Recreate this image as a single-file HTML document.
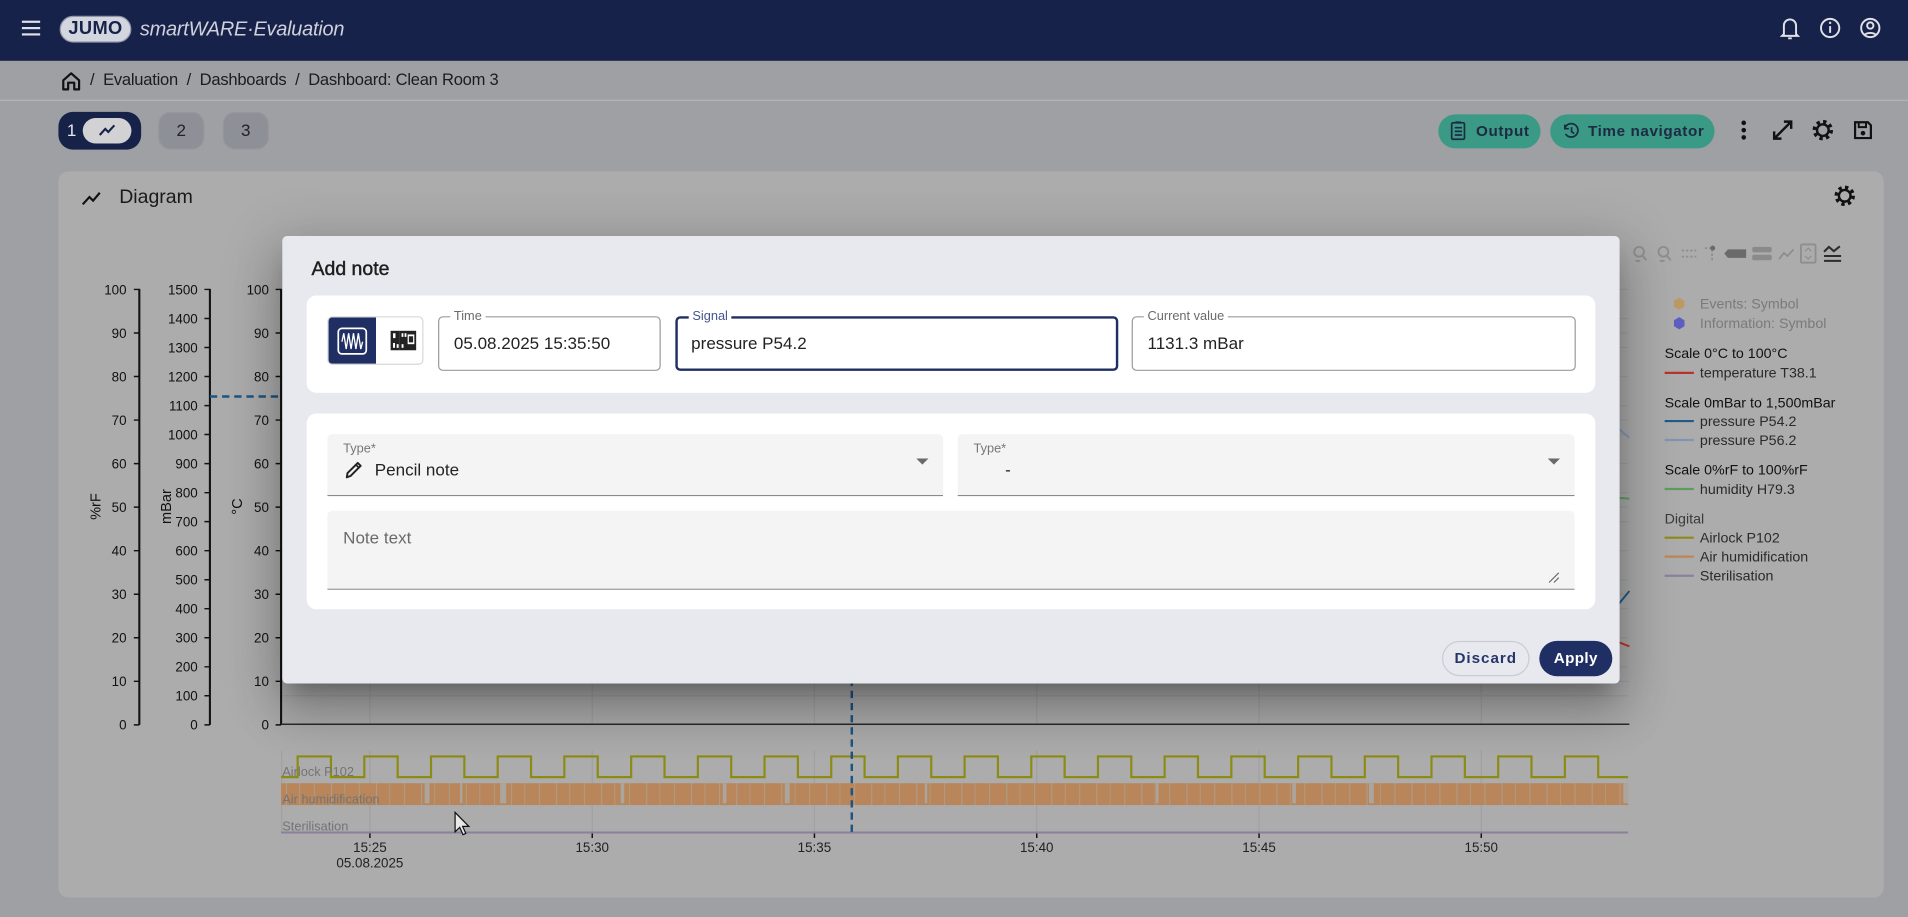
<!DOCTYPE html>
<html><head><meta charset="utf-8">
<style>
html,body{margin:0;padding:0;width:1908px;height:917px;overflow:hidden;background:#9fa0a4;}
#w{position:absolute;left:0;top:0;width:1568px;height:754px;transform:scale(1.21684,1.21618);transform-origin:0 0;font-family:"Liberation Sans",Arial,sans-serif;background:#9fa0a4;overflow:hidden;}
.a{position:absolute}
.fld{position:absolute;border:1px solid #9b9b9b;border-radius:4px;box-sizing:border-box;}
.fld .lb{position:absolute;top:-7px;left:9px;padding:0 3px;background:#fff;font-size:10.5px;line-height:12px;color:#6b6b6b;}
.fld .v{position:absolute;left:12px;top:0;line-height:43px;font-size:14px;color:#222;}
.sel{position:absolute;background:#f4f4f5;border-bottom:1px solid #8a8a8a;border-radius:4px 4px 0 0;box-sizing:border-box;}
.sel .lb{position:absolute;left:13px;top:6px;font-size:10.5px;line-height:12px;color:#777;}
.sel .v{position:absolute;top:20px;line-height:18px;font-size:14px;color:#222;}
</style></head><body><div id="w">

<!-- header -->
<div class="a" style="left:0;top:0;width:1568px;height:50px;background:#17224a;"></div>
<svg class="a" style="left:0;top:0" width="1568" height="50">
  <g fill="#dfe1e7"><rect x="18" y="17" width="15" height="1.8"/><rect x="18" y="22.2" width="15" height="1.8"/><rect x="18" y="27.4" width="15" height="1.8"/></g>
  <g fill="none" stroke="#dfe1e7" stroke-width="1.6">
    <path d="M1466,28V21a5,5 0 0 1 10,0V28l1.5,1.5H1464.5Z"/><path d="M1469.5,31.5h3"/>
    <circle cx="1504" cy="23" r="7.5"/><path d="M1504,21.5v5.5"/>
    <circle cx="1537" cy="23" r="7.5"/><circle cx="1537" cy="21" r="2.6"/><path d="M1532.3,28.6a6,4 0 0 1 9.4,0"/>
  </g>
  <circle cx="1504" cy="18.8" r="1" fill="#dfe1e7"/>
</svg>
<div class="a" style="left:49px;top:13px;width:59px;height:22px;box-sizing:border-box;border-radius:11px;background:#d3d6de;border:1.5px solid #8f96a8;text-align:center;font-weight:bold;font-size:15px;line-height:19px;color:#17224a;letter-spacing:0.3px;">JUMO</div>
<div class="a" style="left:115px;top:14px;font-style:italic;font-size:16.4px;line-height:20px;color:#cfd2da;letter-spacing:-0.2px;white-space:nowrap;">smartWARE·Evaluation</div>

<!-- breadcrumb -->
<div class="a" style="left:0;top:82px;width:1568px;height:1px;background:#b3b4b8;"></div>
<svg class="a" style="left:50px;top:58px" width="17" height="17"><path d="M2,8L8.5,2.3L15,8V15.5H11V10H6V15.5H2Z" fill="none" stroke="#111" stroke-width="1.8" stroke-linejoin="round"/></svg>
<div class="a" style="left:74px;top:58px;font-size:13.6px;line-height:16px;color:#1c1c1c;white-space:nowrap;letter-spacing:-0.2px;">/&nbsp; Evaluation &nbsp;/&nbsp; Dashboards &nbsp;/&nbsp; Dashboard: Clean Room 3</div>

<!-- tabs -->
<div class="a" style="left:48px;top:92px;width:68px;height:31px;border-radius:12px;background:#172249;"></div>
<div class="a" style="left:55px;top:99px;font-size:14px;line-height:16px;color:#e6e8ee;">1</div>
<div class="a" style="left:68px;top:97px;width:40px;height:21px;border-radius:11px;background:#d2d2d4;"></div>
<svg class="a" style="left:80px;top:100px" width="16" height="14"><polyline points="2,11 6.5,6 9,8.5 14,3" fill="none" stroke="#172249" stroke-width="1.7"/></svg>
<div class="a" style="left:130px;top:92px;width:38px;height:31px;border-radius:10px;background:#8e9097;border:1px solid #95979d;box-sizing:border-box;text-align:center;font-size:14px;line-height:29px;color:#222;">2</div>
<div class="a" style="left:183px;top:92px;width:38px;height:31px;border-radius:10px;background:#8e9097;border:1px solid #95979d;box-sizing:border-box;text-align:center;font-size:14px;line-height:29px;color:#222;">3</div>

<!-- right toolbar -->
<div class="a" style="left:1182px;top:94px;width:84px;height:28px;border-radius:14px;background:#3a9a86;"></div>
<div class="a" style="left:1213px;top:94px;line-height:28px;font-size:12.5px;font-weight:bold;color:#1d2a42;letter-spacing:0.5px;">Output</div>
<div class="a" style="left:1274px;top:94px;width:135px;height:28px;border-radius:14px;background:#3a9a86;"></div>
<div class="a" style="left:1305px;top:94px;line-height:28px;font-size:12.5px;font-weight:bold;color:#1d2a42;letter-spacing:0.5px;white-space:nowrap;">Time navigator</div>
<svg class="a" style="left:0;top:0" width="1568" height="140">
  <g fill="none" stroke="#1d2a42" stroke-width="1.4">
    <rect x="1193" y="101" width="10.5" height="13.5" rx="1"/><path d="M1196,100.5h4.5M1195.5,105h6M1195.5,108h6M1195.5,111h6"/>
    <path d="M1286,105.5a5.5,5.5 0 1 1 0.6,4.6"/><path d="M1286,102.5v3.3h3.3"/><path d="M1291.5,104.5v3.8l2.2,1.5"/>
  </g>
  <g fill="#111"><circle cx="1433" cy="101" r="1.9"/><circle cx="1433" cy="107" r="1.9"/><circle cx="1433" cy="113" r="1.9"/></g>
  <g fill="none" stroke="#111" stroke-width="2">
    <path d="M1458,114L1472,100M1466,100H1472V106M1458,108V114H1464"/>
    <circle cx="1498" cy="107" r="7" stroke-width="2.8" stroke-dasharray="2.75 2.75"/>
    <circle cx="1498" cy="107" r="4.8" stroke-width="2"/>
    <path d="M1525,100.5H1535L1537.5,103V113.5H1524.5V100.5Z" stroke-width="1.8"/>
    <path d="M1527.5,101v3.5h6V101" stroke-width="1.6"/>
  </g>
  <circle cx="1531" cy="109.5" r="1.9" fill="#111"/>
</svg>

<!-- card -->
<div class="a" style="left:48px;top:141px;width:1500px;height:597px;border-radius:8px;background:#acacac;"></div>
<svg class="a" style="left:66px;top:155px" width="18" height="16"><polyline points="2,13 7.5,7 10.5,10 16,3.5" fill="none" stroke="#111" stroke-width="1.8"/></svg>
<div class="a" style="left:98px;top:154px;font-size:16px;line-height:18px;color:#1a1a1a;">Diagram</div>
<svg class="a" style="left:1506px;top:151px" width="20" height="20"><circle cx="10" cy="10" r="7" fill="none" stroke="#111" stroke-width="2.8" stroke-dasharray="2.75 2.75"/><circle cx="10" cy="10" r="4.8" fill="none" stroke="#111" stroke-width="2"/></svg>

<!-- chart -->
<svg class="a" style="left:0;top:0" width="1568" height="754" font-family="Liberation Sans, Arial, sans-serif">
  <defs>
    <pattern id="hp" x="231" y="644" width="37" height="18" patternUnits="userSpaceOnUse">
      <rect width="37" height="18" fill="#b8865a"/>
      <rect x="4" width="0.8" height="18" fill="#ae9f90"/>
      <rect x="15" width="0.6" height="18" fill="#ae9f90"/>
      <rect x="27" width="0.7" height="18" fill="#ae9f90"/>
    </pattern>
  </defs>
  <!-- grid -->
  <g stroke="#a1a1a1" stroke-width="1">
    <path d="M231,238H1338M231,261.9H1338M231,273.8H1338M231,285.7H1338M231,309.6H1338M231,333.5H1338M231,345.4H1338M231,357.3H1338M231,381.2H1338M231,405.1H1338M231,417H1338M231,428.9H1338M231,452.8H1338M231,476.7H1338M231,488.6H1338M231,500.5H1338M231,524.4H1338M231,548.3H1338M231,560.2H1338M231,572.1H1338"/>
    <path d="M304,238V596M486.7,238V596M669.3,238V596M852,238V596M1034.7,238V596M1217.3,238V596"/>
    <path d="M304,617V685M486.7,617V685M669.3,617V685M852,617V685M1034.7,617V685M1217.3,617V685M231.5,617V685"/>
  </g>
  <!-- line fragments at right -->
  <g fill="none" stroke-width="1.6">
    <path d="M1325,348L1339,360" stroke="#7f9abb"/>
    <path d="M1325,409L1339,410" stroke="#5ea25e"/>
    <path d="M1325,503L1339,486" stroke="#1f5a8a"/>
    <path d="M1325,526L1339,531.5" stroke="#c0352b"/>
  </g>
  <!-- axes -->
  <g stroke="#111" fill="none">
    <path d="M114.5,237.5V596M172.5,237.5V596M231,237.5V596" stroke-width="1.7"/>
    <path d="M231,595.5H1339" stroke="#2a2a2a" stroke-width="1.2"/>
    <path stroke-width="1.2" d="M110,238H114.5M110,273.8H114.5M110,309.6H114.5M110,345.4H114.5M110,381.2H114.5M110,417H114.5M110,452.8H114.5M110,488.6H114.5M110,524.4H114.5M110,560.2H114.5M110,596H114.5
    M226.5,238H231M226.5,273.8H231M226.5,309.6H231M226.5,345.4H231M226.5,381.2H231M226.5,417H231M226.5,452.8H231M226.5,488.6H231M226.5,524.4H231M226.5,560.2H231M226.5,596H231
    M168,238H172.5M168,261.9H172.5M168,285.7H172.5M168,309.6H172.5M168,333.5H172.5M168,357.3H172.5M168,381.2H172.5M168,405.1H172.5M168,428.9H172.5M168,452.8H172.5M168,476.7H172.5M168,500.5H172.5M168,524.4H172.5M168,548.3H172.5M168,572.1H172.5M168,596H172.5
    M304,685V689M486.7,685V689M669.3,685V689M852,685V689M1034.7,685V689M1217.3,685V689"/>
  </g>
  <g font-size="11" fill="#111" text-anchor="end">
    <text x="104" y="242">100</text><text x="104" y="277.8">90</text><text x="104" y="313.6">80</text><text x="104" y="349.4">70</text><text x="104" y="385.2">60</text><text x="104" y="421">50</text><text x="104" y="456.8">40</text><text x="104" y="492.6">30</text><text x="104" y="528.4">20</text><text x="104" y="564.2">10</text><text x="104" y="600">0</text>
    <text x="221" y="242">100</text><text x="221" y="277.8">90</text><text x="221" y="313.6">80</text><text x="221" y="349.4">70</text><text x="221" y="385.2">60</text><text x="221" y="421">50</text><text x="221" y="456.8">40</text><text x="221" y="492.6">30</text><text x="221" y="528.4">20</text><text x="221" y="564.2">10</text><text x="221" y="600">0</text>
    <text x="162.5" y="242">1500</text><text x="162.5" y="265.9">1400</text><text x="162.5" y="289.7">1300</text><text x="162.5" y="313.6">1200</text><text x="162.5" y="337.5">1100</text><text x="162.5" y="361.3">1000</text><text x="162.5" y="385.2">900</text><text x="162.5" y="409.1">800</text><text x="162.5" y="432.9">700</text><text x="162.5" y="456.8">600</text><text x="162.5" y="480.7">500</text><text x="162.5" y="504.5">400</text><text x="162.5" y="528.4">300</text><text x="162.5" y="552.3">200</text><text x="162.5" y="576.1">100</text><text x="162.5" y="600">0</text>
  </g>
  <g font-size="12" fill="#111" text-anchor="middle">
    <text x="82.5" y="416.5" transform="rotate(-90 82.5 416.5)">%rF</text>
    <text x="140.5" y="416.5" transform="rotate(-90 140.5 416.5)">mBar</text>
    <text x="199" y="416.5" transform="rotate(-90 199 416.5)">°C</text>
  </g>
  <!-- digital -->
  <rect x="231" y="644" width="1107" height="18" fill="url(#hp)"/>
  <g fill="#aba59e">
    <rect x="349" y="644" width="4" height="16.5"/><rect x="378" y="644" width="2" height="16.5"/><rect x="411" y="644" width="5" height="16.5"/><rect x="510" y="644" width="3" height="16.5"/><rect x="594" y="644" width="3" height="16.5"/><rect x="645" y="644" width="4" height="16.5"/><rect x="760" y="644" width="2" height="16.5"/><rect x="950" y="644" width="2" height="16.5"/><rect x="1062" y="644" width="3" height="16.5"/><rect x="1125" y="644" width="4" height="16.5"/><rect x="1334" y="644" width="4" height="16.5"/>
  </g>
  <path d="M231,639H244.6V622H272V639H299.4V622H326.8V639H354.2V622H381.6V639H409V622H436.4V639H463.8V622H491.2V639H518.7V622H546.1V639H573.5V622H600.9V639H628.3V622H655.7V639H683.1V622H710.5V639H737.9V622H765.3V639H792.7V622H820.1V639H847.5V622H874.9V639H902.3V622H929.7V639H957.1V622H984.5V639H1011.9V622H1039.3V639H1066.8V622H1094.2V639H1121.6V622H1149V639H1176.4V622H1203.8V639H1231.2V622H1258.6V639H1286V622H1313.4V639H1338" fill="none" stroke="#8c8c14" stroke-width="1.8"/>
  <path d="M231,684.5H1338" stroke="#8b7f9c" stroke-width="1.6"/>
  <g font-size="10.5" fill="#747474">
    <text x="232" y="638">Airlock P102</text>
    <text x="232" y="660.5">Air humidification</text>
    <text x="232" y="683">Sterilisation</text>
  </g>
  <g font-size="11" fill="#222" text-anchor="middle">
    <text x="304" y="700.5">15:25</text><text x="304" y="713.5">05.08.2025</text>
    <text x="486.7" y="700.5">15:30</text><text x="669.3" y="700.5">15:35</text><text x="852" y="700.5">15:40</text><text x="1034.7" y="700.5">15:45</text><text x="1217.3" y="700.5">15:50</text>
  </g>
  <!-- dashed markers -->
  <path d="M172.5,326H700" stroke="#1d5483" stroke-width="2" stroke-dasharray="6 4"/>
  <path d="M700,238V685" stroke="#1d5483" stroke-width="2" stroke-dasharray="6 4"/>
  <!-- chart toolbar -->
  <g fill="none" stroke="#8e8e8e" stroke-width="1.5">
    <circle cx="1347" cy="207" r="4"/><path d="M1350,210.5L1353,214M1344,214.5h4"/>
    <circle cx="1367" cy="207" r="4"/><path d="M1370,210.5L1373,214M1364,214.5h4"/>
    <path d="M1382,206H1394M1382,211H1394" stroke-dasharray="2 1.5"/>
    <path d="M1401,204H1407V214" stroke-dasharray="2 1.5"/>
    <path d="M1462,213L1466,208L1469,210.5L1474,205"/>
    <rect x="1480" y="201" width="12" height="15" rx="1"/><path d="M1483.5,206.5L1486,204L1488.5,206.5M1483.5,210.5L1486,213L1488.5,210.5" stroke-width="1"/>
  </g>
  <circle cx="1407.5" cy="204" r="2" fill="#6a6a6a"/>
  <path d="M1420,205H1435V212H1420L1417,208.5Z" fill="#6a6a6a"/>
  <rect x="1440" y="203" width="16" height="4.5" rx="1.5" fill="#8a8a8a"/><rect x="1440" y="209.5" width="16" height="4.5" rx="1.5" fill="#8a8a8a"/>
  <g fill="none" stroke="#2c2c2c" stroke-width="1.7"><path d="M1499,207L1503,203L1507,206.5L1512,202.5M1499,210.5H1513M1499,214.5H1513"/></g>
  <!-- legend -->
  <path d="M1380,244.8L1384.3,247.3V252.3L1380,254.8L1375.7,252.3V247.3Z" fill="#bd9a65"/>
  <path d="M1380,260.8L1384.3,263.3V268.3L1380,270.8L1375.7,268.3V263.3Z" fill="#5d5dc2"/>
  <g font-size="11.7">
    <text x="1397" y="253.8" fill="#7a7a7a">Events: Symbol</text>
    <text x="1397" y="269.8" fill="#7a7a7a">Information: Symbol</text>
    <text x="1368" y="294.4" fill="#111">Scale 0°C to 100°C</text>
    <text x="1397" y="310.6" fill="#2a2a2a">temperature T38.1</text>
    <text x="1368" y="334.9" fill="#111">Scale 0mBar to 1,500mBar</text>
    <text x="1397" y="350.2" fill="#2a2a2a">pressure P54.2</text>
    <text x="1397" y="365.8" fill="#2a2a2a">pressure P56.2</text>
    <text x="1368" y="390.2" fill="#111">Scale 0%rF to 100%rF</text>
    <text x="1397" y="406.1" fill="#2a2a2a">humidity H79.3</text>
    <text x="1368" y="430.5" fill="#3a3a3a">Digital</text>
    <text x="1397" y="446.1" fill="#2a2a2a">Airlock P102</text>
    <text x="1397" y="461.7" fill="#2a2a2a">Air humidification</text>
    <text x="1397" y="477.4" fill="#2a2a2a">Sterilisation</text>
  </g>
  <g stroke-width="1.8">
    <path d="M1368,306.6H1392" stroke="#b9332a"/>
    <path d="M1368,346.2H1392" stroke="#1f5a8a"/>
    <path d="M1368,361.8H1392" stroke="#7f96b2"/>
    <path d="M1368,402.1H1392" stroke="#5e9c5e"/>
    <path d="M1368,442.1H1392" stroke="#8c8c14"/>
    <path d="M1368,457.7H1392" stroke="#c08556"/>
    <path d="M1368,473.4H1392" stroke="#8c7fa0"/>
  </g>
  <!-- cursor -->
  <path d="M374,668V684L377.8,680.3L380.5,686.3L382.8,685.3L380.2,679.5H385.3Z" fill="#e8e8e8" stroke="#111" stroke-width="1"/>
</svg>

<!-- modal -->
<div class="a" style="left:232px;top:194px;width:1099px;height:368px;border-radius:4px;background:#e8e9ee;box-shadow:0 11px 15px -7px rgba(0,0,0,.25),0 24px 38px 3px rgba(0,0,0,.17),0 9px 46px 8px rgba(0,0,0,.15);">
  <div class="a" style="left:24px;top:19px;font-size:16px;line-height:18px;color:#1e1e1e;-webkit-text-stroke:0.35px #1e1e1e;">Add note</div>
  <div class="a" style="left:20px;top:49px;width:1059px;height:80px;border-radius:8px;background:#fff;">
    <div class="a" style="left:17px;top:17px;width:79px;height:40px;border:1px solid #d8d8d8;border-radius:4px;box-sizing:border-box;overflow:hidden;">
      <div class="a" style="left:0;top:0;width:39px;height:40px;background:#1f2f63;"></div>
      <svg class="a" style="left:0;top:0" width="79" height="40">
        <rect x="8" y="9" width="23" height="21" rx="3" fill="none" stroke="#fff" stroke-width="1.4"/>
        <path d="M11,20L12.5,13L14.5,26L16.5,13L18.5,26L20.5,13L22.5,26L24.5,13L26.5,26L28,20" fill="none" stroke="#fff" stroke-width="1.1"/>
        <rect x="51" y="11" width="7" height="16" fill="#222"/><rect x="58" y="11" width="14" height="16" fill="#222"/>
        <rect x="53" y="13" width="2" height="4" fill="#fff"/><rect x="60" y="13" width="1.5" height="3" fill="#fff"/><rect x="62.5" y="13" width="1.5" height="3" fill="#fff"/>
        <rect x="65" y="14" width="5.5" height="8" fill="#fff"/><rect x="66" y="15.5" width="3.5" height="5" fill="#222"/>
        <rect x="53" y="21" width="1.6" height="4" fill="#fff"/><rect x="56" y="22" width="1.6" height="3" fill="#fff"/><rect x="60" y="22" width="1.6" height="3" fill="#fff"/>
      </svg>
    </div>
    <div class="fld" style="left:108px;top:17px;width:183px;height:45px;"><div class="lb">Time</div><div class="v">05.08.2025 15:35:50</div></div>
    <div class="fld" style="left:303px;top:17px;width:364px;height:45px;border:2px solid #1f2f63;"><div class="lb" style="top:-8px;color:#44558a;">Signal</div><div class="v" style="left:11px;line-height:41px;">pressure P54.2</div></div>
    <div class="fld" style="left:678px;top:17px;width:365px;height:45px;"><div class="lb">Current value</div><div class="v">1131.3 mBar</div></div>
  </div>
  <div class="a" style="left:20px;top:146px;width:1059px;height:161px;border-radius:8px;background:#fff;">
    <div class="sel" style="left:17px;top:17px;width:506px;height:51px;">
      <div class="lb">Type*</div>
      <svg class="a" style="left:14px;top:21px" width="16" height="16"><path d="M2,14.5L2.6,11L11,2.6L13.4,5L5,13.4Z" fill="none" stroke="#222" stroke-width="1.6" stroke-linejoin="round"/><path d="M9.5,4.2L11.8,6.5" stroke="#222" stroke-width="1.4"/></svg>
      <div class="v" style="left:39px;">Pencil note</div>
      <svg class="a" style="left:484px;top:20px" width="11" height="6"><path d="M0,0H10L5,5Z" fill="#6a6a6a"/></svg>
    </div>
    <div class="sel" style="left:535px;top:17px;width:507px;height:51px;">
      <div class="lb">Type*</div>
      <div class="v" style="left:39px;">-</div>
      <svg class="a" style="left:485px;top:20px" width="11" height="6"><path d="M0,0H10L5,5Z" fill="#6a6a6a"/></svg>
    </div>
    <div class="sel" style="left:17px;top:80px;width:1025px;height:65px;">
      <div class="a" style="left:13px;top:14px;font-size:14px;line-height:17px;color:#6a6a6a;">Note text</div>
      <svg class="a" style="left:1003px;top:50px" width="10" height="10"><path d="M1,9L9,1M5,9L9,5" stroke="#666" stroke-width="0.9"/></svg>
    </div>
  </div>
  <div class="a" style="left:953px;top:333px;width:72px;height:29px;border-radius:15px;border:1px solid #c9cbd5;box-sizing:border-box;text-align:center;font-size:12.5px;line-height:27px;font-weight:bold;color:#26366a;letter-spacing:0.8px;">Discard</div>
  <div class="a" style="left:1033px;top:333px;width:60px;height:29px;border-radius:15px;background:#1f2f63;text-align:center;font-size:12.5px;line-height:29px;font-weight:bold;color:#fff;letter-spacing:0.3px;">Apply</div>
</div>

</div></body></html>
